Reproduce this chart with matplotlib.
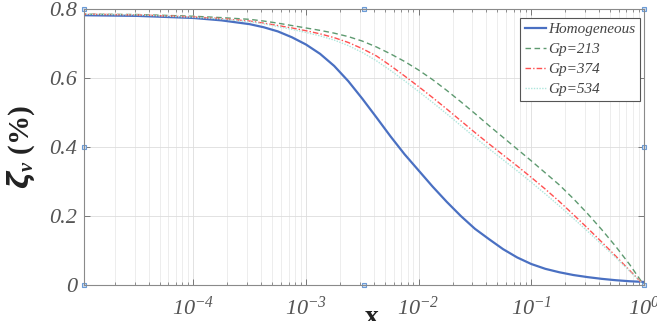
import numpy as np
import matplotlib
matplotlib.use("Agg")
import matplotlib.pyplot as plt

# log10(x) sample positions
logx = [-5, -4.5, -4, -3.75, -3.5, -3.375, -3.25, -3.125, -3, -2.875, -2.75,
        -2.625, -2.5, -2.375, -2.25, -2.125, -2, -1.875, -1.75, -1.625, -1.5,
        -1.375, -1.25, -1.125, -1, -0.875, -0.75, -0.625, -0.5, -0.375, -0.25,
        -0.125, 0]

homog = [0.782, 0.780, 0.774, 0.767, 0.756, 0.747, 0.735, 0.718, 0.697, 0.670,
         0.635, 0.591, 0.540, 0.486, 0.431, 0.379, 0.332, 0.285, 0.241, 0.200,
         0.163, 0.133, 0.104, 0.080, 0.061, 0.047, 0.037, 0.029, 0.023, 0.018,
         0.014, 0.011, 0.009]
gp213 = [0.785, 0.784, 0.779, 0.775, 0.770, 0.765, 0.759, 0.752, 0.745, 0.738,
         0.730, 0.720, 0.707, 0.690, 0.670, 0.648, 0.623, 0.595, 0.564, 0.531,
         0.497, 0.462, 0.428, 0.394, 0.360, 0.325, 0.290, 0.250, 0.207, 0.161,
         0.112, 0.059, 0.0]
gp374 = [0.785, 0.783, 0.777, 0.772, 0.765, 0.759, 0.752, 0.745, 0.737, 0.728,
         0.717, 0.703, 0.685, 0.664, 0.636, 0.606, 0.575, 0.543, 0.510, 0.476,
         0.442, 0.409, 0.377, 0.345, 0.312, 0.278, 0.242, 0.204, 0.165, 0.125,
         0.084, 0.042, 0.0]
gp534 = [0.785, 0.783, 0.776, 0.771, 0.763, 0.757, 0.749, 0.741, 0.732, 0.722,
         0.710, 0.694, 0.674, 0.650, 0.622, 0.592, 0.561, 0.529, 0.496, 0.462,
         0.428, 0.395, 0.363, 0.331, 0.298, 0.264, 0.229, 0.193, 0.156, 0.118,
         0.080, 0.040, 0.0]

labels = ["Homogeneous", "Gp=213", "Gp=374", "Gp=534"]
xticks = [1e-4, 1e-3, 1e-2, 1e-1, 1e0]
xticklabels = [r"$10^{-4}$", r"$10^{-3}$", r"$10^{-2}$", r"$10^{-1}$", r"$10^{0}$"]
yticks = [0, 0.2, 0.4, 0.6, 0.8]
yticklabels = ["0", "0.2", "0.4", "0.6", "0.8"]

plt.rcParams["font.family"] = "Liberation Serif"
plt.rcParams["mathtext.fontset"] = "custom"
plt.rcParams["mathtext.rm"] = "Liberation Serif:italic"
plt.rcParams["mathtext.it"] = "Liberation Serif:italic"
plt.rcParams["mathtext.bf"] = "Liberation Serif:bold:italic"

fig = plt.figure(figsize=(6.57, 3.21), dpi=100)
ax = fig.add_axes([0.128, 0.112, 0.852, 0.860])

x = 10.0 ** np.array(logx)
ax.plot(x, homog, color="#4a70c2", lw=1.6, label=labels[0])
ax.plot(x, gp213, color="#5e9a70", lw=1.0, ls=(0, (4, 2.5)), label=labels[1])
ax.plot(x, gp374, color="#ff5050", lw=1.0, ls=(0, (4, 1.5, 1, 1.5)), label=labels[2])
ax.plot(x, gp534, color="#aee6dc", lw=1.0, ls=(0, (1, 1)), label=labels[3])

ax.set_xscale("log")
ax.set_xlim(1.07e-5, 1)
ax.set_ylim(0, 0.8)
ax.set_xticks(xticks)
ax.set_xticklabels(xticklabels)
ax.set_yticks(yticks)
ax.set_yticklabels(yticklabels)

#Grid & ticks, MATLAB style
ax.grid(True, which="major", color="#dddddd", lw=0.6)
ax.grid(True, which="minor", axis="x", color="#e6e6e6", lw=0.5)
ax.tick_params(which="both", direction="in", top=True, right=True,
               colors="#666666", labelcolor="#555555", labelsize=16)
ax.tick_params(which="major", length=4, width=0.6)
ax.tick_params(which="minor", length=2, width=0.5)
ax.tick_params(axis="x", pad=8)
ax.tick_params(axis="y", pad=5)
for s in ax.spines.values():
    s.set_color("#8a8a8a")
    s.set_linewidth(0.8)
for t in ax.get_yticklabels():
    t.set_fontstyle("italic")

ax.set_ylabel(r"$\boldsymbol{\zeta}_{\mathbf{v}}$ (%)", fontsize=21,
              fontweight="bold", color="#222222")
ax.yaxis.set_label_coords(-0.112, 0.5)
ax.yaxis.label.set_va("center")
ax.set_xlabel("x", fontsize=20, fontweight="bold", color="#222222")
ax.xaxis.set_label_coords(0.514, -0.14)
ax.xaxis.label.set_va("baseline")

#Selection handles
hx = [0, 0, 0, 0.5, 0.5, 1, 1, 1]
hy = [0, 0.5, 1, 0, 1, 0, 0.5, 1]
ax.plot(hx, hy, ls="none", marker="s", ms=3, mfc="#cfe0f5", mec="#6b9bd6",
        mew=0.8, transform=ax.transAxes, clip_on=False)

leg = ax.legend(loc="upper right", bbox_to_anchor=(0.993, 0.968),
                borderaxespad=0, fancybox=False, framealpha=1,
                edgecolor="#555555", handlelength=1.4,
                handletextpad=0.15, labelspacing=0.42, borderpad=0.3,
                prop={"style": "italic", "size": 11})
leg.get_frame().set_linewidth(0.8)
for t in leg.get_texts():
    t.set_color("#444444")

fig.savefig("out.png", dpi=100)
